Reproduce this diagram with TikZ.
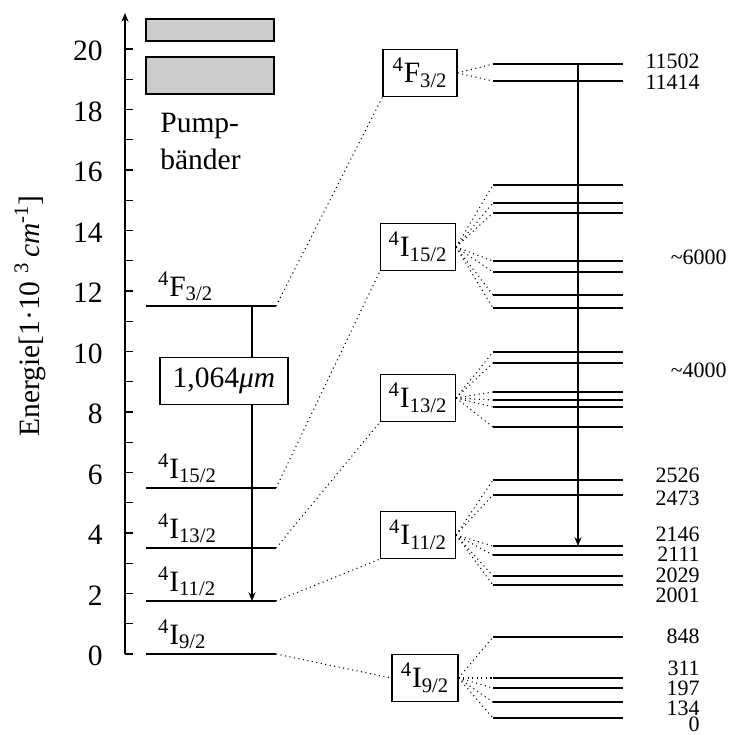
\documentclass[tikz,border=0pt]{standalone}
\usepackage{fontspec}
\setmainfont{Liberation Serif}
\usetikzlibrary{arrows.meta}

\begin{document}
\begin{tikzpicture}[x=0.02cm, y=-0.02cm, >={Stealth[length=5pt,width=4pt]},
  every node/.style={font=\fontsize{16.8}{18}\selectfont},
  level/.style={line width=0.6pt},
  fan/.style={dotted, line width=0.6pt},
  term/.style={draw, line width=0.6pt, minimum width=1.5cm, minimum height=0.94cm, inner sep=0pt},
  lbl/.style={anchor=south west, inner sep=1pt},
  num/.style={anchor=east, inner sep=0pt, font=\fontsize{12.5}{13}\selectfont}]
\useasboundingbox (0,0) rectangle (729,735);
\draw[level,->] (125,654) -- (125,13);
\foreach \e in {0,...,20} \draw[level] (125,654-30.25*\e) -- (133,654-30.25*\e);
\foreach \e in {0,2,...,20} \node[anchor=east, inner sep=0pt] (t\e) at (103,656-30.25*\e) {\e};
\node[rotate=90] (ylab) at (30,316) {Energie[1·10 \textsuperscript{3}\,\textit{cm}\textsuperscript{-1}]};

\draw[level, fill=gray!40] (146,19) rectangle (274,41);
\draw[level, fill=gray!40] (146,57) rectangle (274,94);
\node[anchor=north west, align=left, inner sep=0pt, font=\fontsize{16.8}{21}\selectfont] (pump) at (160,113) {Pump-\\bänder};

\draw[level] (146,306) -- (276,306) coordinate (lF32);
\draw[level] (146,488) -- (276,488) coordinate (lI152);
\draw[level] (146,548) -- (276,548) coordinate (lI132);
\draw[level] (146,601) -- (276,601) coordinate (lI112);
\draw[level] (146,654) -- (276,654) coordinate (lI92);
\node[lbl] (nF32) at (156,303) {\textsuperscript{4}F\textsubscript{3/2}};
\node[lbl] (nI152) at (156,485) {\textsuperscript{4}I\textsubscript{15/2}};
\node[lbl] (nI132) at (156,545) {\textsuperscript{4}I\textsubscript{13/2}};
\node[lbl] (nI112) at (156,598) {\textsuperscript{4}I\textsubscript{11/2}};
\node[lbl] (nI92) at (156,651) {\textsuperscript{4}I\textsubscript{9/2}};

\coordinate (up) at (252,306);
\coordinate (lo) at (252,601);
\draw[level,->] (up) -- (lo);
\node[draw, fill=white, line width=0.6pt, minimum width=2.56cm, minimum height=0.94cm] (lam) at (224,381) {1,064\textit{μm}};

\node[term, minimum width=1.48cm] (F32) at (420,73) {\textsuperscript{4}F\textsubscript{3/2}};
\node[term] (I152) at (418,247) {\textsuperscript{4}I\textsubscript{15/2}};
\node[term] (I132) at (418,398) {\textsuperscript{4}I\textsubscript{13/2}};
\node[term] (I112) at (418,535) {\textsuperscript{4}I\textsubscript{11/2}};
\node[term, minimum width=1.32cm] (I92) at (425,678) {\textsuperscript{4}I\textsubscript{9/2}};

\draw[fan] (lF32) -- (F32.south west);
\draw[fan] (lI152) -- (I152.south west);
\draw[fan] (lI132) -- (I132.south west);
\draw[fan] (lI112) -- (I112.south west);
\draw[fan] (lI92) -- (I92.west);

\foreach \y in {64,81} {\draw[level] (493,\y) coordinate (r\y) -- (623,\y); \draw[fan] (F32.east) -- (r\y);}
\foreach \y in {185,203,213,261,272,295,308} {\draw[level] (493,\y) coordinate (r\y) -- (623,\y); \draw[fan] (I152.east) -- (r\y);}
\foreach \y in {352,363,392,400,407,427} {\draw[level] (493,\y) coordinate (r\y) -- (623,\y); \draw[fan] (I132.east) -- (r\y);}
\foreach \y in {480,495,546,555,576,585} {\draw[level] (493,\y) coordinate (r\y) -- (623,\y); \draw[fan] (I112.east) -- (r\y);}
\foreach \y in {637,678,688,702,718} {\draw[level] (493,\y) coordinate (r\y) -- (623,\y); \draw[fan] (I92.east) -- (r\y);}

\coordinate (top) at (578,64);
\coordinate (bot) at (578,546);
\draw[level,->] (top) -- (bot);

\foreach \y/\v in {61/11502, 82/11414, 475/2526, 498/2473, 534/2146, 554/2111, 575/2029, 595/2001, 636/848, 668/311, 688/197, 708/134, 724/0}
  \node[num] (v\v) at (700,\y) {\v};
\node[num] (s6) at (727,257) {\textasciitilde 6000};
\node[num] (s4) at (727,370) {\textasciitilde 4000};
\end{tikzpicture}
\end{document}
